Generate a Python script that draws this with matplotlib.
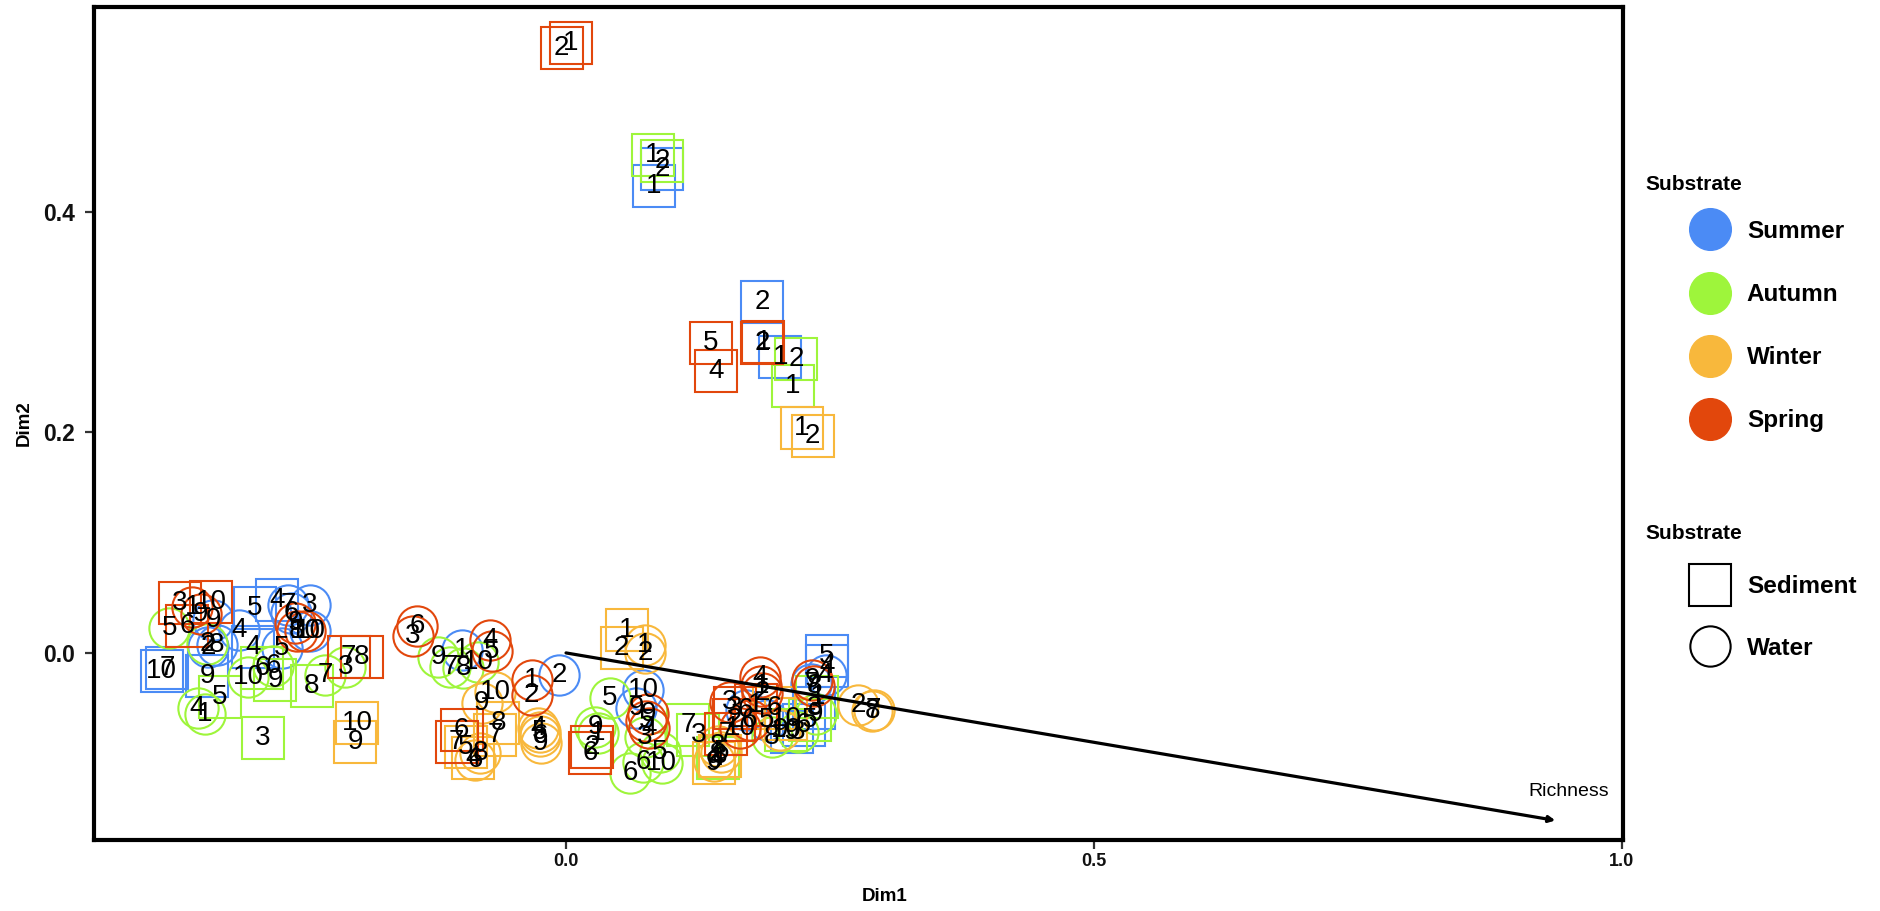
import matplotlib.pyplot as plt
from matplotlib.lines import Line2D

plt.rcParams['font.family'] = ['Liberation Sans', 'DejaVu Sans']

# season colours
seasons = ['Summer', 'Autumn', 'Winter', 'Spring']
season_colors = ['#4B8BF5', '#9EF53B', '#F8B83C', '#E2470C']

# ---- Summer ----
summer_sed_lab = ['1', '2', '2', '1', '10', '7', '9', '5', '4', '4', '5', '4', '9', '3', '6']
summer_sed_x = [0.083, 0.091, 0.186, 0.203, -0.383, -0.378, -0.340, -0.2945, -0.274, -0.296, 0.247, 0.247, 0.214, 0.235, 0.225]
summer_sed_y = [0.4235, 0.4395, 0.318, 0.2685, -0.016, -0.014, -0.021, 0.041, 0.048, 0.005, -0.003, -0.012, -0.072, -0.050, -0.065]
summer_wat_lab = ['2', '10', '9', '1', '3', '7', '6', '10', '5', '4', '9', '2', '8', '4', '7', '5', '6']
summer_wat_x = [-0.0063, 0.0732, 0.0663, -0.0988, -0.2424, -0.263, -0.260, -0.2424, -0.2694, -0.310, -0.334, -0.3387, -0.331, 0.2458, 0.232, 0.190, 0.170]
summer_wat_y = [-0.020, -0.0336, -0.050, 0.0027, 0.0436, 0.0436, 0.036, 0.0195, 0.0043, 0.0209, 0.030, 0.0057, 0.0073, -0.020, -0.028, -0.061, -0.052]

# ---- Autumn ----
autumn_sed_lab = ['1', '2', '2', '1', '3', '5', '6', '9', '8', '7', '3', '10', '5', '4', '1']
autumn_sed_x = [0.082, 0.091, 0.218, 0.215, -0.287, -0.328, -0.288, -0.2756, -0.2409, 0.1158, 0.1253, 0.2083, 0.231, 0.1435, 0.2380]
autumn_sed_y = [0.452, 0.4465, 0.267, 0.242, -0.0769, -0.040, -0.014, -0.0245, -0.0304, -0.0653, -0.0744, -0.0695, -0.0608, -0.0950, -0.0400]
autumn_wat_lab = ['5', '4', '1', '10', '6', '7', '3', '2', '9', '7', '8', '10', '5', '9', '1', '3', '6', '6', '5', '10', '3', '9', '8']
autumn_wat_x = [-0.3757, -0.349, -0.342, -0.301, -0.2772, -0.228, -0.209, -0.340, -0.1209, -0.1098, -0.0972, -0.083, 0.0417, 0.0275, 0.030, 0.0748, 0.0606, 0.0732, 0.089, 0.0906, 0.2197, 0.2367, 0.1950]
autumn_wat_y = [0.0224, -0.050, -0.0554, -0.0215, -0.0122, -0.020, -0.0124, 0.008, -0.0033, -0.0124, -0.0139, -0.0079, -0.0411, -0.0669, -0.073, -0.076, -0.109, -0.0986, -0.0896, -0.1001, -0.0717, -0.0553, -0.0760]

# ---- Winter ----
winter_sed_lab = ['1', '2', '1', '2', '10', '9', '8', '7', '5', '4', '9', '8', '6', '10']
winter_sed_x = [0.2235, 0.2337, 0.0575, 0.0527, -0.198, -0.1998, -0.064, -0.0672, -0.095, -0.088, 0.1400, 0.1458, 0.1974, 0.2083]
winter_sed_y = [0.204, 0.197, 0.0209, 0.0043, -0.0638, -0.0805, -0.0638, -0.0744, -0.085, -0.095, -0.100, -0.0935, -0.050, -0.060]
winter_wat_lab = ['1', '2', '10', '9', '4', '6', '9', '5', '8', '6', '2', '7', '8', '8', '6', '5', '9']
winter_wat_x = [0.0748, 0.0748, -0.0672, -0.0798, -0.0265, -0.0246, -0.024, -0.025, -0.0814, -0.0862, 0.2765, 0.2913, 0.2900, 0.1435, 0.1400, 0.1470, 0.2027]
winter_wat_y = [0.0073, -0.0003, -0.0351, -0.0457, -0.068, -0.0757, -0.0818, -0.072, -0.091, -0.097, -0.047, -0.0514, -0.0530, -0.0847, -0.098, -0.090, -0.0700]

# ---- Spring ----
spring_sed_lab = ['2', '1', '5', '4', '2', '1', '3', '10', '6', '7', '8', '6', '7', '6', '2', '3', '2', '7', '1']
spring_sed_x = [-0.004, 0.0045, 0.137, 0.1425, 0.186, 0.187, -0.366, -0.336, -0.3586, -0.206, -0.1935, -0.0988, -0.1035, 0.0227, 0.025, 0.160, 0.1594, 0.1515, 0.1800]
spring_sed_y = [0.549, 0.553, 0.281, 0.2555, 0.281, 0.282, 0.045, 0.046, 0.024, -0.0034, -0.0034, -0.0699, -0.0805, -0.091, -0.085, -0.050, -0.0608, -0.0738, -0.0477]
spring_wat_lab = ['6', '3', '4', '5', '1', '2', '9', '5', '4', '1', '9', '9', '8', '10', '4', '1', '2', '9', '8', '6', '3', '10']
spring_wat_x = [-0.141, -0.145, -0.072, -0.070, -0.0325, -0.0325, 0.078, 0.076, 0.079, -0.354, -0.346, -0.2566, -0.255, -0.247, 0.1837, 0.1850, 0.1860, 0.2330, 0.2350, 0.1740, 0.1550, 0.1650]
spring_wat_y = [0.024, 0.015, 0.012, 0.002, -0.0245, -0.0381, -0.055, -0.062, -0.068, 0.042, 0.035, 0.027, 0.0195, 0.0195, -0.0215, -0.030, -0.036, -0.025, -0.030, -0.0608, -0.0445, -0.0680]

# Richness vector
vec_x = [0.0, 0.937]
vec_y = [0.0, -0.152]

groups = [
    (0, 's', summer_sed_lab, summer_sed_x, summer_sed_y),
    (0, 'o', summer_wat_lab, summer_wat_x, summer_wat_y),
    (1, 's', autumn_sed_lab, autumn_sed_x, autumn_sed_y),
    (1, 'o', autumn_wat_lab, autumn_wat_x, autumn_wat_y),
    (2, 's', winter_sed_lab, winter_sed_x, winter_sed_y),
    (2, 'o', winter_wat_lab, winter_wat_x, winter_wat_y),
    (3, 's', spring_sed_lab, spring_sed_x, spring_sed_y),
    (3, 'o', spring_wat_lab, spring_wat_x, spring_wat_y),
]

fig = plt.figure(figsize=(18.81, 9.11), dpi=100)
ax = fig.add_axes([0.050, 0.078, 0.8128, 0.914])

for si, mk, lab, xs, ys in groups:
    ms = 30 if mk == 's' else 29
    ax.plot(xs, ys, linestyle='none', marker=mk, markersize=ms, markerfacecolor='none',
            markeredgecolor=season_colors[si], markeredgewidth=1.5)

for si, mk, lab, xs, ys in groups:
    for t, x, y in zip(lab, xs, ys):
        ax.text(x, y, t, fontsize=20, ha='center', va='center', color='black')

# vector arrow
ax.annotate('', xy=(vec_x[1], vec_y[1]), xytext=(vec_x[0], vec_y[0]),
            arrowprops=dict(arrowstyle='-|>', lw=2.3, color='black', mutation_scale=9,
                            shrinkA=0, shrinkB=0))
ax.text(0.950, -0.126, 'Richness', fontsize=14, ha='center', va='center')

ax.set_xlim(-0.447, 1.001)
ax.set_ylim(-0.1697, 0.5858)
ax.set_xticks([0.0, 0.5, 1.0])
ax.set_xticklabels(['0.0', '0.5', '1.0'])
ax.set_yticks([0.0, 0.2, 0.4])
ax.set_yticklabels(['0.0', '0.2', '0.4'])
ax.tick_params(direction='out', length=6.5, width=1.6, color='#333333', pad=3)
ax.tick_params(axis='x', labelsize=13)
ax.tick_params(axis='y', labelsize=16.5, pad=7)
for lbl in ax.get_xticklabels() + ax.get_yticklabels():
    lbl.set_fontweight('bold')
    lbl.set_color('#111111')
for sp in ax.spines.values():
    sp.set_linewidth(3)
    sp.set_color('black')

ax.set_xlabel('Dim1', fontsize=13.5, fontweight='bold')
ax.set_ylabel('Dim2', fontsize=13.5, fontweight='bold')
ax.xaxis.set_label_coords(0.517, -0.058)
ax.yaxis.set_label_coords(-0.040, 0.5)

# legends (titles placed as separate texts so the keys can be indented)
leg_kw = dict(loc='upper left', frameon=False, prop={'weight': 'bold', 'size': 17.5},
              handletextpad=0.75, handlelength=1.5, borderpad=0, borderaxespad=0)
h_season = [Line2D([], [], linestyle='none', marker='o', markersize=30, markerfacecolor=c,
                   markeredgecolor=c) for c in season_colors]
fig.text(0.875, 0.798, 'Substrate', fontsize=15, fontweight='bold', va='center', ha='left')
fig.legend(h_season, seasons, bbox_to_anchor=(0.8996, 0.7585), labelspacing=1.65, **leg_kw)

h_sub = [Line2D([], [], linestyle='none', marker='s', markersize=30, markerfacecolor='none',
                markeredgecolor='black', markeredgewidth=1.5),
         Line2D([], [], linestyle='none', marker='o', markersize=29, markerfacecolor='none',
                markeredgecolor='black', markeredgewidth=1.5)]
fig.text(0.875, 0.414, 'Substrate', fontsize=15, fontweight='bold', va='center', ha='left')
fig.legend(h_sub, ['Sediment', 'Water'], bbox_to_anchor=(0.8996, 0.3683), labelspacing=1.57, **leg_kw)

fig.savefig('out.png', dpi=100)
